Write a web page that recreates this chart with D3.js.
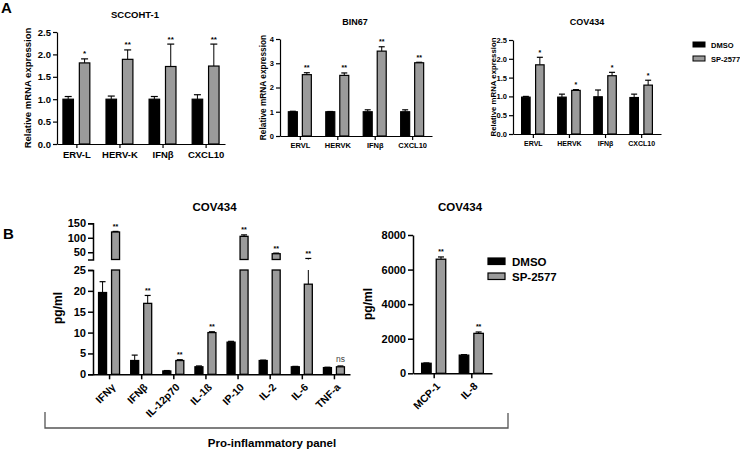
<!DOCTYPE html>
<html><head><meta charset="utf-8">
<script src="https://cdn.jsdelivr.net/npm/d3@7"></script>
<style>
body{margin:0;background:#fff}
svg{display:block;font-family:"Liberation Sans",Arial,Helvetica,sans-serif}
</style>
</head><body>
<svg id="c" width="740" height="449"></svg>
<script>
// ---------------- DATA ----------------
const seriesNames = ["DMSO", "SP-2577"];

// Panel A – SCCOHT-1
const catsSCCOHT = ["ERV-L", "HERV-K", "IFNβ", "CXCL10"];
const dmsoSCCOHT = [1.0, 1.0, 1.0, 1.0];
const dmsoErrSCCOHT = [0.06, 0.07, 0.06, 0.1];
const spSCCOHT = [1.81, 1.89, 1.73, 1.74];
const spErrSCCOHT = [0.09, 0.21, 0.5, 0.49];
const sigSCCOHT = ["*", "**", "**", "**"];
const ticksSCCOHT = [0, 0.5, 1, 1.5, 2, 2.5];

// Panel A – BIN67
const catsBIN67 = ["ERVL", "HERVK", "IFNβ", "CXCL10"];
const dmsoBIN67 = [1.0, 1.0, 1.0, 1.0];
const dmsoErrBIN67 = [0.02, 0.01, 0.08, 0.08];
const spBIN67 = [2.53, 2.5, 3.5, 3.02];
const spErrBIN67 = [0.08, 0.1, 0.18, 0.02];
const sigBIN67 = ["**", "**", "**", "**"];
const ticksBIN67 = [0, 1, 2, 3, 4];

// Panel A – COV434
const catsCOV = ["ERVL", "HERVK", "IFNβ", "CXCL10"];
const dmsoCOV = [0.98, 0.98, 0.99, 0.97];
const dmsoErrCOV = [0.02, 0.08, 0.18, 0.09];
const spCOV = [1.84, 1.16, 1.55, 1.30];
const spErrCOV = [0.2, 0.02, 0.09, 0.13];
const sigCOV = ["*", "*", "*", "*"];
const ticksCOV = [0, 0.5, 1, 1.5, 2, 2.5];

// Panel B – pro-inflammatory cytokines (pg/ml)
const catsCyto = ["IFNγ", "IFNβ", "IL-12p70", "IL-1ß", "IP-10", "IL-2", "IL-6", "TNF-a"];
const dmsoCyto = [19.6, 3.3, 0.8, 1.8, 7.7, 3.3, 1.8, 1.6];
const dmsoErrCyto = [2.6, 1.3, 0.1, 0.2, 0.2, 0.1, 0.1, 0.1];
const spCyto = [120, 17.0, 3.3, 10.0, 105, 45, 21.6, 1.8];
const spErrCyto = [2, 1.9, 0.2, 0.2, 5, 2, 7, 0.2];
const sigCyto = ["**", "**", "**", "**", "**", "**", "**", "ns"];
const ticksCytoLow = [0, 5, 10, 15, 20, 25];
const ticksCytoHigh = [50, 100, 150];

// Panel B – chemokines (pg/ml)
const catsChemo = ["MCP-1", "IL-8"];
const dmsoChemo = [580, 1050];
const dmsoErrChemo = [20, 30];
const spChemo = [6600, 2310];
const spErrChemo = [130, 80];
const sigChemo = ["**", "**"];
const ticksChemo = [0, 2000, 4000, 6000, 8000];

// ---------------- DRAW ----------------
const svg = d3.select("#c");
const GREY = "#9b9b9b";

function styleAxis(sel, fs, sw) {
  sel.selectAll("text").attr("font-size", fs).attr("font-weight", "bold").attr("fill", "#000");
  sel.selectAll("line,path").attr("stroke", "#000").attr("stroke-width", sw);
}

function drawA(c) {
  const g = svg.append("g");
  const x = d3.scalePoint().domain(c.cats).range([c.x0, c.x1]).padding(c.pad);
  const y = d3.scaleLinear().domain([0, c.max]).range([c.yb, c.yt]);
  const series = [
    {v: c.dmso, e: c.dmsoErr, fill: "#000", dx: -c.off},
    {v: c.sp, e: c.spErr, fill: GREY, dx: c.off}
  ];
  series.forEach((s, si) => {
    c.cats.forEach((cat, i) => {
      const cx = x(cat) + s.dx;
      const top = y(s.v[i] + s.e[i]);
      g.append("line").attr("x1", cx).attr("x2", cx).attr("y1", y(s.v[i])).attr("y2", top)
        .attr("stroke", "#000").attr("stroke-width", 1);
      g.append("line").attr("x1", cx - c.cap).attr("x2", cx + c.cap).attr("y1", top).attr("y2", top)
        .attr("stroke", "#000").attr("stroke-width", 1.2);
      g.append("rect").attr("x", cx - c.bw / 2).attr("y", y(s.v[i]))
        .attr("width", c.bw).attr("height", y(0) - y(s.v[i]))
        .attr("fill", s.fill).attr("stroke", "#000").attr("stroke-width", 1.2);
      if (si === 1) {
        g.append("text").attr("x", cx).attr("y", top - 2.5).attr("text-anchor", "middle")
          .attr("font-size", c.sfs).attr("font-weight", "bold").text(c.sig[i]);
      }
    });
  });
  g.append("g").attr("transform", `translate(${c.x0},0)`)
    .call(d3.axisLeft(y).tickValues(c.ticks).tickFormat(c.fmt).tickSize(4).tickSizeOuter(0).tickPadding(2))
    .call(s => styleAxis(s, c.tfs, 1.2));
  g.append("g").attr("transform", `translate(0,${c.yb})`)
    .call(d3.axisBottom(x).tickSize(4).tickSizeOuter(0).tickPadding(3))
    .call(s => styleAxis(s, c.xfs, 1.2));
  g.append("text").attr("transform", `translate(${c.lx},${(c.yb + c.yt) / 2}) rotate(-90)`)
    .attr("text-anchor", "middle").attr("font-size", c.lfs).attr("font-weight", "bold")
    .text("Relative mRNA expression");
  g.append("text").attr("x", c.titleX).attr("y", c.titleY).attr("text-anchor", "middle")
    .attr("font-size", c.titlefs).attr("font-weight", "bold").text(c.title);
}

drawA({cats: catsSCCOHT, dmso: dmsoSCCOHT, dmsoErr: dmsoErrSCCOHT, sp: spSCCOHT, spErr: spErrSCCOHT,
  sig: sigSCCOHT, ticks: ticksSCCOHT, fmt: d3.format(".1f"), max: 2.5,
  x0: 57, x1: 225, pad: 0.45, yb: 144, yt: 32, off: 8.2, bw: 10.5, cap: 3.5,
  tfs: 9.5, xfs: 9.5, sfs: 8, lfs: 9.5, lx: 31, title: "SCCOHT-1", titleX: 135, titleY: 18, titlefs: 9.5});

drawA({cats: catsBIN67, dmso: dmsoBIN67, dmsoErr: dmsoErrBIN67, sp: spBIN67, spErr: spErrBIN67,
  sig: sigBIN67, ticks: ticksBIN67, fmt: d3.format("d"), max: 4,
  x0: 280, x1: 432, pad: 0.53, yb: 136, yt: 39, off: 7, bw: 9, cap: 3,
  tfs: 7.5, xfs: 7.5, sfs: 7, lfs: 8.3, lx: 266, title: "BIN67", titleX: 355, titleY: 25, titlefs: 9});

drawA({cats: catsCOV, dmso: dmsoCOV, dmsoErr: dmsoErrCOV, sp: spCOV, spErr: spErrCOV,
  sig: sigCOV, ticks: ticksCOV, fmt: d3.format(".1f"), max: 2.5,
  x0: 513, x1: 661, pad: 0.55, yb: 134, yt: 40, off: 7, bw: 8.5, cap: 3,
  tfs: 7.5, xfs: 7, sfs: 7, lfs: 7.8, lx: 496, title: "COV434", titleX: 587, titleY: 25, titlefs: 9});

// Panel A legend
const legA = svg.append("g");
seriesNames.forEach((n, i) => {
  legA.append("rect").attr("x", 693).attr("y", 42 + i * 14).attr("width", 12).attr("height", 5)
    .attr("fill", i ? GREY : "#000").attr("stroke", "#000").attr("stroke-width", 1);
  legA.append("text").attr("x", 711).attr("y", 47.5 + i * 14).attr("font-size", 7.5)
    .attr("font-weight", "bold").text(n);
});

// Panel labels
svg.append("text").attr("x", 1).attr("y", 13).attr("font-size", 15).attr("font-weight", "bold").text("A");
svg.append("text").attr("x", 3).attr("y", 239).attr("font-size", 15).attr("font-weight", "bold").text("B");

// ---------- Panel B left: broken axis ----------
(function () {
  const g = svg.append("g");
  const x0 = 93, x1 = 350;
  const x = d3.scalePoint().domain(catsCyto).range([x0, x1]).padding(0.5);
  const yLow = d3.scaleLinear().domain([0, 25]).range([374.3, 270]);
  const yHigh = d3.scaleLinear().domain([25, 150]).range([259.5, 223.3]);
  const off = 6.5, bw = 8, cap = 3;
  const series = [
    {v: dmsoCyto, e: dmsoErrCyto, fill: "#000", dx: -off},
    {v: spCyto, e: spErrCyto, fill: GREY, dx: off}
  ];
  series.forEach((s, si) => {
    catsCyto.forEach((cat, i) => {
      const cx = x(cat) + s.dx;
      const v = s.v[i], t = v + s.e[i];
      if (t <= 25) {
        g.append("line").attr("x1", cx).attr("x2", cx).attr("y1", yLow(v)).attr("y2", yLow(t)).attr("stroke", "#000").attr("stroke-width", 1);
      } else {
        if (v < 25) g.append("line").attr("x1", cx).attr("x2", cx).attr("y1", yLow(v)).attr("y2", yLow(25)).attr("stroke", "#000").attr("stroke-width", 1);
        g.append("line").attr("x1", cx).attr("x2", cx).attr("y1", yHigh(Math.max(v, 25))).attr("y2", yHigh(t)).attr("stroke", "#000").attr("stroke-width", 1);
      }
      const ty = t <= 25 ? yLow(t) : yHigh(t);
      g.append("line").attr("x1", cx - cap).attr("x2", cx + cap).attr("y1", ty).attr("y2", ty).attr("stroke", "#000").attr("stroke-width", 1.2);
      g.append("rect").attr("x", cx - bw / 2).attr("y", yLow(Math.min(v, 25))).attr("width", bw)
        .attr("height", yLow(0) - yLow(Math.min(v, 25))).attr("fill", s.fill).attr("stroke", "#000").attr("stroke-width", 1.3);
      if (v > 25) {
        g.append("rect").attr("x", cx - bw / 2).attr("y", yHigh(v)).attr("width", bw)
          .attr("height", yHigh(25) - yHigh(v)).attr("fill", s.fill).attr("stroke", "#000").attr("stroke-width", 1.3);
      }
      if (si === 1) {
        const ns = sigCyto[i] === "ns";
        g.append("text").attr("x", cx).attr("y", ty - (ns ? 4 : 2.5)).attr("text-anchor", "middle")
          .attr("font-size", ns ? 8.5 : 7).attr("font-weight", ns ? "normal" : "bold")
          .attr("fill", ns ? "#444" : "#000").text(sigCyto[i]);
      }
    });
  });
  g.append("g").attr("transform", `translate(${x0},0)`)
    .call(d3.axisLeft(yLow).tickValues(ticksCytoLow).tickSize(5).tickSizeOuter(5).tickPadding(2))
    .call(s => styleAxis(s, 11, 1.5));
  g.append("g").attr("transform", `translate(${x0},0)`)
    .call(d3.axisLeft(yHigh).tickValues(ticksCytoHigh).tickSize(5).tickSizeOuter(5).tickPadding(2))
    .call(s => styleAxis(s, 11, 1.5));
  const xa = g.append("g").attr("transform", `translate(0,374.3)`)
    .call(d3.axisBottom(x).tickSize(5).tickSizeOuter(0))
    .call(s => styleAxis(s, 10.5, 1.5));
  xa.selectAll("text").attr("x", 0).attr("y", 0).attr("dy", "0.35em")
    .attr("text-anchor", "end").attr("transform", "translate(4,11) rotate(-45)");
  g.append("text").attr("transform", "translate(62,308) rotate(-90)").attr("text-anchor", "middle")
    .attr("font-size", 12).attr("font-weight", "bold").text("pg/ml");
  g.append("text").attr("x", 214.5).attr("y", 211).attr("text-anchor", "middle")
    .attr("font-size", 11.5).attr("font-weight", "bold").text("COV434");
})();

// ---------- Panel B right ----------
(function () {
  const g = svg.append("g");
  const x0 = 413, x1 = 492;
  const x = d3.scalePoint().domain(catsChemo).range([x0, x1]).padding(0.55);
  const y = d3.scaleLinear().domain([0, 8000]).range([373.3, 235]);
  const off = 7.3, bw = 9.5, cap = 3;
  const series = [
    {v: dmsoChemo, e: dmsoErrChemo, fill: "#000", dx: -off},
    {v: spChemo, e: spErrChemo, fill: GREY, dx: off}
  ];
  series.forEach((s, si) => {
    catsChemo.forEach((cat, i) => {
      const cx = x(cat) + s.dx;
      const top = y(s.v[i] + s.e[i]);
      g.append("line").attr("x1", cx).attr("x2", cx).attr("y1", y(s.v[i])).attr("y2", top).attr("stroke", "#000");
      g.append("line").attr("x1", cx - cap).attr("x2", cx + cap).attr("y1", top).attr("y2", top).attr("stroke", "#000").attr("stroke-width", 1.2);
      g.append("rect").attr("x", cx - bw / 2).attr("y", y(s.v[i])).attr("width", bw)
        .attr("height", y(0) - y(s.v[i])).attr("fill", s.fill).attr("stroke", "#000").attr("stroke-width", 1.3);
      if (si === 1) g.append("text").attr("x", cx).attr("y", top - 2.5).attr("text-anchor", "middle")
        .attr("font-size", 7).attr("font-weight", "bold").text(sigChemo[i]);
    });
  });
  g.append("g").attr("transform", `translate(${x0},0)`)
    .call(d3.axisLeft(y).tickValues(ticksChemo).tickFormat(d3.format("d")).tickSize(5).tickSizeOuter(0).tickPadding(2))
    .call(s => styleAxis(s, 11, 1.5));
  const xa = g.append("g").attr("transform", "translate(0,373.3)")
    .call(d3.axisBottom(x).tickSize(5).tickSizeOuter(0))
    .call(s => styleAxis(s, 10.5, 1.5));
  xa.selectAll("text").attr("x", 0).attr("y", 0).attr("dy", "0.35em")
    .attr("text-anchor", "end").attr("transform", "translate(4,11) rotate(-45)");
  g.append("text").attr("transform", "translate(372,304) rotate(-90)").attr("text-anchor", "middle")
    .attr("font-size", 12).attr("font-weight", "bold").text("pg/ml");
  g.append("text").attr("x", 460).attr("y", 211).attr("text-anchor", "middle")
    .attr("font-size", 11.5).attr("font-weight", "bold").text("COV434");
  seriesNames.forEach((n, i) => {
    g.append("rect").attr("x", 488).attr("y", 258 + i * 15).attr("width", 17).attr("height", 6.5)
      .attr("fill", i ? GREY : "#000").attr("stroke", "#000").attr("stroke-width", 1.2);
    g.append("text").attr("x", 512).attr("y", 265.5 + i * 15).attr("font-size", 11.5)
      .attr("font-weight", "bold").text(n);
  });
})();

// Bracket + label
svg.append("path").attr("d", "M45,412V428H508V413").attr("fill", "none").attr("stroke", "#555").attr("stroke-width", 1.3);
svg.append("text").attr("x", 272).attr("y", 447).attr("text-anchor", "middle").attr("font-size", 11.5)
  .attr("font-weight", "bold").text("Pro-inflammatory panel");
</script>
</body></html>
